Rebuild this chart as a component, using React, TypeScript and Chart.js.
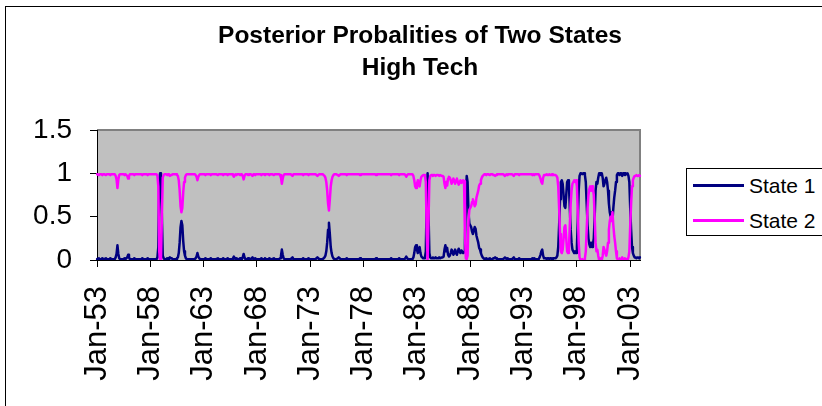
import React, { useEffect, useRef } from 'react';
import { Chart, registerables } from 'chart.js';

Chart.register(...registerables);

const START_YEAR = 1953;
const MONTH_NAMES = ['Jan', 'Feb', 'Mar', 'Apr', 'May', 'Jun', 'Jul', 'Aug', 'Sep', 'Oct', 'Nov', 'Dec'];
const TICK_LABELS = ['Jan-53', 'Jan-58', 'Jan-63', 'Jan-68', 'Jan-73', 'Jan-78', 'Jan-83', 'Jan-88', 'Jan-93', 'Jan-98', 'Jan-03'];
const TICK_EVERY = 60;
const Y_TICK_VALUES = [0, 0.5, 1, 1.5];
const Y_TICK_LABELS = ['0', '0.5', '1', '1.5'];
const SERIES_NAMES = ['State 1', 'State 2'];
const SERIES_COLORS = ['#000080', '#FF00FF'];

// State 1 posterior probability, monthly Jan-1953 .. Dec-2003 (one row per year)
const STATE1 = [
  0.01,0.01,0.02,0.01,0.01,0.01,0.02,0.01,0.01,0.01,0.02,0.01,
  0.01,0.01,0.01,0.02,0.01,0.01,0.01,0.01,0.01,0.03,0.07,0.17,
  0.07,0.02,0.01,0.01,0.01,0.01,0.01,0.02,0.01,0.02,0.03,0.06,
  0.03,0.01,0.01,0.01,0.01,0.01,0.02,0.01,0.01,0.01,0.01,0.01,
  0.01,0.01,0.01,0.02,0.01,0.01,0.01,0.01,0.01,0.02,0.01,0.01,
  0.01,0.01,0.01,0.01,0.01,0.01,0.01,0.01,0.03,0.15,0.90,1.00,
  0.97,0.50,0.05,0.02,0.01,0.01,0.01,0.02,0.01,0.02,0.03,0.02,
  0.02,0.01,0.01,0.01,0.01,0.01,0.02,0.03,0.08,0.20,0.38,0.45,
  0.40,0.22,0.10,0.05,0.02,0.01,0.01,0.01,0.01,0.01,0.01,0.01,
  0.01,0.01,0.01,0.02,0.04,0.08,0.04,0.02,0.01,0.01,0.01,0.01,
  0.01,0.01,0.02,0.01,0.01,0.01,0.01,0.01,0.02,0.01,0.01,0.01,
  0.01,0.01,0.01,0.01,0.02,0.01,0.01,0.01,0.01,0.01,0.02,0.01,
  0.01,0.01,0.01,0.02,0.01,0.01,0.01,0.01,0.01,0.02,0.04,0.02,
  0.01,0.02,0.01,0.01,0.01,0.02,0.01,0.01,0.03,0.07,0.03,0.01,
  0.01,0.01,0.02,0.01,0.01,0.01,0.02,0.03,0.01,0.01,0.02,0.01,
  0.01,0.01,0.01,0.01,0.01,0.02,0.01,0.01,0.01,0.02,0.01,0.01,
  0.01,0.01,0.02,0.01,0.01,0.01,0.01,0.02,0.01,0.01,0.01,0.01,
  0.01,0.01,0.02,0.05,0.12,0.06,0.02,0.01,0.01,0.01,0.01,0.01,
  0.01,0.01,0.01,0.02,0.03,0.01,0.01,0.01,0.01,0.01,0.01,0.01,
  0.01,0.01,0.01,0.01,0.02,0.01,0.01,0.01,0.01,0.01,0.02,0.01,
  0.01,0.01,0.01,0.01,0.01,0.01,0.01,0.02,0.03,0.02,0.01,0.01,
  0.01,0.01,0.01,0.02,0.03,0.05,0.10,0.20,0.35,0.43,0.30,0.15,
  0.08,0.04,0.02,0.01,0.01,0.01,0.01,0.02,0.03,0.02,0.01,0.01,
  0.01,0.01,0.01,0.01,0.01,0.02,0.01,0.01,0.01,0.01,0.01,0.01,
  0.01,0.01,0.01,0.01,0.01,0.01,0.01,0.01,0.02,0.01,0.01,0.01,
  0.01,0.01,0.01,0.01,0.01,0.01,0.01,0.01,0.01,0.01,0.01,0.01,
  0.01,0.01,0.02,0.01,0.01,0.01,0.01,0.01,0.01,0.01,0.01,0.01,
  0.01,0.01,0.01,0.01,0.01,0.01,0.01,0.02,0.01,0.01,0.01,0.01,
  0.01,0.01,0.01,0.01,0.02,0.01,0.01,0.01,0.01,0.01,0.01,0.02,
  0.04,0.02,0.01,0.01,0.01,0.01,0.01,0.01,0.03,0.08,0.15,0.17,
  0.12,0.08,0.13,0.15,0.08,0.04,0.03,0.02,0.02,0.03,0.10,0.70,
  1.00,0.55,0.08,0.03,0.02,0.02,0.03,0.02,0.02,0.03,0.02,0.02,
  0.02,0.03,0.02,0.02,0.03,0.03,0.04,0.12,0.17,0.10,0.14,0.06,
  0.04,0.05,0.08,0.12,0.10,0.06,0.08,0.12,0.08,0.06,0.10,0.13,
  0.10,0.08,0.11,0.10,0.08,0.09,0.20,0.70,0.97,0.90,0.55,0.42,
  0.40,0.38,0.33,0.30,0.34,0.38,0.36,0.28,0.24,0.20,0.14,0.12,
  0.08,0.05,0.03,0.02,0.01,0.01,0.02,0.01,0.01,0.01,0.02,0.01,
  0.01,0.01,0.02,0.02,0.03,0.02,0.01,0.01,0.01,0.01,0.01,0.01,
  0.01,0.01,0.02,0.03,0.02,0.01,0.02,0.01,0.01,0.01,0.01,0.01,
  0.01,0.03,0.01,0.01,0.01,0.01,0.01,0.02,0.01,0.01,0.01,0.01,
  0.01,0.01,0.01,0.01,0.01,0.01,0.01,0.01,0.01,0.01,0.02,0.01,
  0.02,0.01,0.01,0.01,0.01,0.01,0.03,0.06,0.10,0.12,0.05,0.02,
  0.02,0.02,0.01,0.02,0.02,0.01,0.02,0.02,0.01,0.02,0.02,0.02,
  0.02,0.03,0.05,0.15,0.40,0.70,0.90,0.92,0.88,0.75,0.62,0.60,
  0.75,0.90,0.92,0.88,0.60,0.35,0.20,0.12,0.10,0.08,0.10,0.08,
  0.15,0.45,0.80,0.97,1.00,1.00,0.99,1.00,1.00,0.98,0.90,0.65,
  0.40,0.25,0.18,0.15,0.20,0.15,0.18,0.25,0.50,0.80,0.90,0.88,
  0.95,1.00,1.00,0.98,1.00,0.95,0.85,0.88,0.92,0.95,0.90,0.80,
  0.65,0.55,0.50,0.55,0.45,0.60,0.72,0.80,0.90,0.98,1.00,1.00,
  0.98,1.00,1.00,0.97,1.00,1.00,0.98,1.00,0.99,1.00,0.97,0.90,
  0.60,0.35,0.15,0.08,0.05,0.03,0.03,0.02,0.03,0.03,0.02,0.03,
];

// State 2 posterior probability, monthly Jan-1953 .. Dec-2003 (one row per year)
const STATE2 = [
  0.99,0.99,0.98,0.99,0.99,0.99,0.98,0.99,0.99,0.99,0.98,0.99,
  0.99,0.99,0.99,0.98,0.99,0.99,0.99,0.99,0.99,0.97,0.93,0.83,
  0.93,0.98,0.99,0.99,0.99,0.99,0.99,0.98,0.99,0.98,0.97,0.94,
  0.97,0.99,0.99,0.99,0.99,0.99,0.98,0.99,0.99,0.99,0.99,0.99,
  0.99,0.99,0.99,0.98,0.99,0.99,0.99,0.99,0.99,0.98,0.99,0.99,
  0.99,0.99,0.99,0.99,0.99,0.99,0.99,0.99,0.97,0.85,0.10,0.00,
  0.03,0.50,0.95,0.98,0.99,0.99,0.99,0.98,0.99,0.98,0.97,0.98,
  0.98,0.99,0.99,0.99,0.99,0.99,0.98,0.97,0.92,0.80,0.62,0.55,
  0.60,0.78,0.90,0.95,0.98,0.99,0.99,0.99,0.99,0.99,0.99,0.99,
  0.99,0.99,0.99,0.98,0.96,0.92,0.96,0.98,0.99,0.99,0.99,0.99,
  0.99,0.99,0.98,0.99,0.99,0.99,0.99,0.99,0.98,0.99,0.99,0.99,
  0.99,0.99,0.99,0.99,0.98,0.99,0.99,0.99,0.99,0.99,0.98,0.99,
  0.99,0.99,0.99,0.98,0.99,0.99,0.99,0.99,0.99,0.98,0.96,0.98,
  0.99,0.98,0.99,0.99,0.99,0.98,0.99,0.99,0.97,0.93,0.97,0.99,
  0.99,0.99,0.98,0.99,0.99,0.99,0.98,0.97,0.99,0.99,0.98,0.99,
  0.99,0.99,0.99,0.99,0.99,0.98,0.99,0.99,0.99,0.98,0.99,0.99,
  0.99,0.99,0.98,0.99,0.99,0.99,0.99,0.98,0.99,0.99,0.99,0.99,
  0.99,0.99,0.98,0.95,0.88,0.94,0.98,0.99,0.99,0.99,0.99,0.99,
  0.99,0.99,0.99,0.98,0.97,0.99,0.99,0.99,0.99,0.99,0.99,0.99,
  0.99,0.99,0.99,0.99,0.98,0.99,0.99,0.99,0.99,0.99,0.98,0.99,
  0.99,0.99,0.99,0.99,0.99,0.99,0.99,0.98,0.97,0.98,0.99,0.99,
  0.99,0.99,0.99,0.98,0.97,0.95,0.90,0.80,0.65,0.57,0.70,0.85,
  0.92,0.96,0.98,0.99,0.99,0.99,0.99,0.98,0.97,0.98,0.99,0.99,
  0.99,0.99,0.99,0.99,0.99,0.98,0.99,0.99,0.99,0.99,0.99,0.99,
  0.99,0.99,0.99,0.99,0.99,0.99,0.99,0.99,0.98,0.99,0.99,0.99,
  0.99,0.99,0.99,0.99,0.99,0.99,0.99,0.99,0.99,0.99,0.99,0.99,
  0.99,0.99,0.98,0.99,0.99,0.99,0.99,0.99,0.99,0.99,0.99,0.99,
  0.99,0.99,0.99,0.99,0.99,0.99,0.99,0.98,0.99,0.99,0.99,0.99,
  0.99,0.99,0.99,0.99,0.98,0.99,0.99,0.99,0.99,0.99,0.99,0.98,
  0.96,0.98,0.99,0.99,0.99,0.99,0.99,0.99,0.97,0.92,0.85,0.83,
  0.88,0.92,0.87,0.85,0.92,0.96,0.97,0.98,0.98,0.97,0.90,0.30,
  0.00,0.45,0.92,0.97,0.98,0.98,0.97,0.98,0.98,0.97,0.98,0.98,
  0.98,0.97,0.98,0.98,0.97,0.97,0.96,0.88,0.83,0.90,0.86,0.94,
  0.96,0.95,0.92,0.88,0.90,0.94,0.92,0.88,0.92,0.94,0.90,0.87,
  0.90,0.92,0.89,0.90,0.92,0.91,0.30,0.02,0.01,0.05,0.45,0.58,
  0.60,0.62,0.67,0.70,0.66,0.62,0.64,0.72,0.76,0.80,0.86,0.88,
  0.92,0.95,0.97,0.98,0.99,0.99,0.98,0.99,0.99,0.99,0.98,0.99,
  0.99,0.99,0.98,0.98,0.97,0.98,0.99,0.99,0.99,0.99,0.99,0.99,
  0.99,0.99,0.98,0.97,0.98,0.99,0.98,0.99,0.99,0.99,0.99,0.99,
  0.99,0.97,0.99,0.99,0.99,0.99,0.99,0.98,0.99,0.99,0.99,0.99,
  0.99,0.99,0.99,0.99,0.99,0.99,0.99,0.99,0.99,0.99,0.98,0.99,
  0.98,0.99,0.99,0.99,0.99,0.99,0.97,0.94,0.90,0.88,0.95,0.98,
  0.98,0.98,0.99,0.98,0.98,0.99,0.98,0.98,0.99,0.98,0.98,0.98,
  0.98,0.97,0.95,0.85,0.60,0.30,0.10,0.08,0.12,0.25,0.38,0.40,
  0.25,0.10,0.08,0.12,0.40,0.65,0.80,0.88,0.90,0.92,0.90,0.92,
  0.85,0.55,0.20,0.03,0.00,0.00,0.01,0.00,0.00,0.02,0.10,0.35,
  0.60,0.75,0.82,0.85,0.80,0.85,0.82,0.75,0.50,0.20,0.10,0.12,
  0.05,0.00,0.00,0.02,0.00,0.05,0.15,0.12,0.08,0.05,0.10,0.20,
  0.35,0.45,0.50,0.45,0.55,0.40,0.28,0.20,0.10,0.02,0.00,0.00,
  0.02,0.00,0.00,0.03,0.00,0.00,0.02,0.00,0.01,0.00,0.03,0.10,
  0.40,0.65,0.85,0.92,0.95,0.97,0.97,0.98,0.97,0.97,0.98,0.97,
];

const CATEGORIES = STATE1.map(
  (_, i) => `${MONTH_NAMES[i % 12]}-${String((START_YEAR + Math.floor(i / 12)) % 100).padStart(2, '0')}`
);

const FONT = '"Liberation Sans", Arial, sans-serif';

export default function App() {
  const canvasRef = useRef<HTMLCanvasElement>(null);

  useEffect(() => {
    const canvas = canvasRef.current;
    if (!canvas) return;

    const plotArea = {
      id: 'plotArea',
      beforeDraw(chart: any) {
        const { ctx, chartArea: a } = chart;
        ctx.save();
        ctx.fillStyle = '#C0C0C0';
        ctx.fillRect(a.left, a.top, a.right - a.left, a.bottom - a.top);
        ctx.strokeStyle = '#808080';
        ctx.lineWidth = 2;
        ctx.beginPath();
        ctx.moveTo(a.left, a.top);
        ctx.lineTo(a.right, a.top);
        ctx.lineTo(a.right, a.bottom);
        ctx.stroke();
        ctx.restore();
      },
    };

    const chart = new Chart(canvas, {
      type: 'line',
      data: {
        labels: CATEGORIES,
        datasets: [
          {
            label: SERIES_NAMES[0],
            data: STATE1,
            borderColor: SERIES_COLORS[0],
            backgroundColor: SERIES_COLORS[0],
            borderWidth: 2.5,
            borderJoinStyle: 'round',
            borderCapStyle: 'round',
            pointRadius: 0,
            tension: 0,
            order: 1,
          },
          {
            label: SERIES_NAMES[1],
            data: STATE2,
            borderColor: SERIES_COLORS[1],
            backgroundColor: SERIES_COLORS[1],
            borderWidth: 2.5,
            borderJoinStyle: 'round',
            borderCapStyle: 'round',
            pointRadius: 0,
            tension: 0,
            order: 0,
          },
        ],
      },
      options: {
        responsive: false,
        animation: false,
        devicePixelRatio: 1,
        layout: { padding: { top: 130, right: 182, bottom: 0, left: 0 } },
        plugins: {
          legend: { display: false },
          title: { display: false },
          tooltip: { enabled: false },
        },
        scales: {
          x: {
            type: 'category',
            offset: false,
            afterBuildTicks: (scale: any) => {
              scale.ticks = scale.ticks.filter((t: any) => t.value % TICK_EVERY === 0);
            },
            afterFit: (scale: any) => {
              scale.height = 146;
            },
            grid: {
              display: true,
              drawOnChartArea: false,
              drawTicks: true,
              tickLength: 7,
              color: '#000000',
              offset: false,
            },
            border: { display: true, color: '#000000', width: 1 },
            ticks: {
              autoSkip: false,
              minRotation: 90,
              maxRotation: 90,
              padding: 19,
              color: '#000000',
              font: { family: FONT, size: 31 },
              callback: (value: any) => TICK_LABELS[Math.round(Number(value) / TICK_EVERY)],
            },
          },
          y: {
            type: 'linear',
            min: 0,
            max: 1.5,
            afterFit: (scale: any) => {
              scale.width = 97;
            },
            grid: {
              display: true,
              drawOnChartArea: false,
              drawTicks: true,
              tickLength: 7,
              color: '#000000',
            },
            border: { display: true, color: '#000000', width: 1 },
            ticks: {
              stepSize: 0.5,
              padding: 18,
              color: '#000000',
              font: { family: FONT, size: 28 },
              callback: (value: any) => {
                const k = Y_TICK_VALUES.findIndex((v) => Math.abs(v - Number(value)) < 1e-9);
                return k >= 0 ? Y_TICK_LABELS[k] : '';
              },
            },
          },
        },
      },
      plugins: [plotArea],
    });

    return () => chart.destroy();
  }, []);

  return (
    <div
      style={{
        position: 'absolute',
        left: 0,
        top: 0,
        width: 822,
        height: 406,
        overflow: 'hidden',
        background: '#FFFFFF',
        fontFamily: FONT,
      }}
    >
      <div
        style={{
          position: 'absolute',
          left: 5,
          top: 6,
          width: 900,
          height: 500,
          border: '1px solid #000000',
        }}
      />
      <canvas ref={canvasRef} width={822} height={406} style={{ position: 'absolute', left: 0, top: 0 }} />
      <div
        style={{
          position: 'absolute',
          left: 0,
          top: 19,
          width: 840,
          textAlign: 'center',
          fontWeight: 'bold',
          fontSize: 24.5,
          lineHeight: '32px',
          color: '#000000',
        }}
      >
        <div>Posterior Probalities of Two States</div>
        <div>High Tech</div>
      </div>
      <div
        style={{
          position: 'absolute',
          left: 686,
          top: 168,
          width: 160,
          height: 66,
          border: '1px solid #000000',
          background: '#FFFFFF',
        }}
      >
        {SERIES_NAMES.map((name, i) => (
          <div key={name}>
            <div
              style={{
                position: 'absolute',
                left: 6,
                top: 15 + i * 35,
                width: 51,
                height: 3,
                background: SERIES_COLORS[i],
              }}
            />
            <div
              style={{
                position: 'absolute',
                left: 62,
                top: 5 + i * 35,
                fontSize: 21,
                lineHeight: '24px',
                whiteSpace: 'nowrap',
                color: '#000000',
              }}
            >
              {name}
            </div>
          </div>
        ))}
      </div>
    </div>
  );
}
